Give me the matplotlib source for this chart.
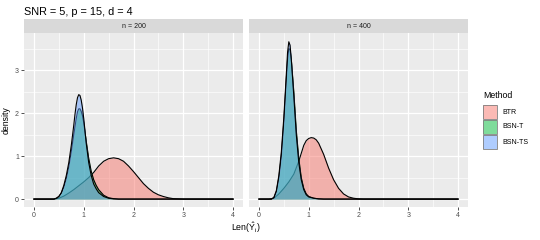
import numpy as np
import matplotlib
matplotlib.use("Agg")
import matplotlib.pyplot as plt
from matplotlib.patches import Rectangle

plt.rcParams['font.family'] = ['Liberation Sans', 'DejaVu Sans']
plt.rcParams['mathtext.fontset'] = 'custom'
plt.rcParams['mathtext.rm'] = 'Liberation Sans'
plt.rcParams['mathtext.it'] = 'Liberation Sans:italic'

# density curves
methods = ['BTR', 'BSN-T', 'BSN-TS']
colors = ['#F8766D', '#00BA38', '#619CFF']
panels = ['n = 200', 'n = 400']

btr200_x = [0, 0.4, 0.5, 0.6, 0.7, 0.8, 0.9, 1.0, 1.1, 1.2, 1.3, 1.4, 1.5, 1.6, 1.7, 1.8, 1.9,
            2.0, 2.1, 2.2, 2.3, 2.4, 2.5, 2.6, 2.7, 2.8, 2.9, 3.0, 4]
btr200_y = [0, 0, 0.02, 0.07, 0.14, 0.22, 0.31, 0.40, 0.50, 0.62, 0.77, 0.88, 0.94, 0.96, 0.94, 0.88, 0.77,
            0.64, 0.50, 0.36, 0.25, 0.16, 0.10, 0.06, 0.03, 0.01, 0.005, 0, 0]

bsnt200_x = [0, 0.4, 0.45, 0.5, 0.55, 0.6, 0.65, 0.7, 0.75, 0.8, 0.85, 0.875, 0.9, 0.925, 0.95,
             0.975, 1.0, 1.05, 1.1, 1.15, 1.2, 1.25, 1.3, 1.4, 1.5, 1.6, 1.7, 4]
bsnt200_y = [0, 0, 0.02, 0.06, 0.14, 0.28, 0.48, 0.75, 1.1, 1.5, 1.88, 2.03, 2.1, 2.1, 2.04,
             1.94, 1.78, 1.35, 0.95, 0.65, 0.45, 0.32, 0.22, 0.09, 0.03, 0.01, 0, 0]

bsnts200_x = [0, 0.4, 0.45, 0.5, 0.55, 0.6, 0.65, 0.7, 0.75, 0.8, 0.825, 0.85, 0.875, 0.9, 0.925,
              0.95, 0.975, 1.0, 1.05, 1.1, 1.15, 1.2, 1.25, 1.3, 1.4, 1.5, 1.6, 1.7, 4]
bsnts200_y = [0, 0, 0.02, 0.06, 0.15, 0.32, 0.55, 0.85, 1.25, 1.72, 1.98, 2.2, 2.36, 2.43, 2.41,
              2.3, 2.12, 1.88, 1.3, 0.85, 0.55, 0.35, 0.24, 0.15, 0.06, 0.02, 0.005, 0, 0]

btr400_x = [0, 0.2, 0.3, 0.4, 0.5, 0.6, 0.7, 0.8, 0.9, 0.95, 1.0, 1.05, 1.1, 1.15, 1.2, 1.3, 1.4,
            1.5, 1.6, 1.7, 1.8, 1.9, 2.0, 2.1, 4]
btr400_y = [0, 0, 0.02, 0.12, 0.25, 0.40, 0.58, 0.88, 1.25, 1.36, 1.41, 1.43, 1.42, 1.38, 1.30, 1.04, 0.72,
            0.45, 0.25, 0.12, 0.05, 0.02, 0.005, 0, 0]

bsnt400_x = [0, 0.25, 0.3, 0.35, 0.4, 0.45, 0.5, 0.55, 0.575, 0.6, 0.625, 0.65, 0.7, 0.75, 0.8,
             0.85, 0.9, 0.95, 1.0, 1.1, 1.2, 1.3, 4]
bsnt400_y = [0, 0, 0.03, 0.17, 0.5, 1.0, 1.8, 2.8, 3.25, 3.5, 3.48, 3.25, 2.5, 1.6, 0.95,
             0.5, 0.25, 0.12, 0.06, 0.02, 0.005, 0, 0]

bsnts400_x = [0, 0.25, 0.3, 0.35, 0.4, 0.45, 0.5, 0.55, 0.575, 0.6, 0.625, 0.65, 0.7, 0.75, 0.8,
              0.85, 0.9, 0.95, 1.0, 1.1, 1.2, 1.3, 4]
bsnts400_y = [0, 0, 0.04, 0.2, 0.55, 1.1, 1.9, 2.9, 3.42, 3.66, 3.58, 3.25, 2.4, 1.5, 0.85,
              0.45, 0.22, 0.1, 0.05, 0.02, 0.005, 0, 0]

curves = [
    [(btr200_x, btr200_y), (bsnt200_x, bsnt200_y), (bsnts200_x, bsnts200_y)],
    [(btr400_x, btr400_y), (bsnt400_x, bsnt400_y), (bsnts400_x, bsnts400_y)],
]

W, H = 540, 240
fig = plt.figure(figsize=(5.4, 2.4), dpi=100)

lefts = [24, 249]
pw = 219
top, bot = 33, 207
strip_top = 19

for i, left in enumerate(lefts):
    ax = fig.add_axes([left / W, 1 - bot / H, pw / W, (bot - top) / H])
    ax.set_facecolor('#EBEBEB')
    # each group: fill then outline, in order, so later fills cover earlier outlines
    for k, ((xs, ys), c) in enumerate(zip(curves[i], colors)):
        ax.fill_between(xs, ys, 0, color=c, alpha=0.5, linewidth=0, zorder=3 + 2 * k)
        ax.plot(xs, ys, color='black', lw=0.8, zorder=3 + 2 * k + 1)
    ax.set_xlim(-0.2, 4.2)
    ax.set_ylim(-0.184, 3.864)
    ax.set_xticks([0, 1, 2, 3, 4])
    ax.set_xticks([0.5, 1.5, 2.5, 3.5], minor=True)
    ax.set_yticks([0, 1, 2, 3])
    ax.set_yticks([0.5, 1.5, 2.5, 3.5], minor=True)
    ax.grid(True, which='major', color='white', lw=0.9)
    ax.grid(True, which='minor', color='white', lw=0.45)
    ax.set_axisbelow(True)
    for s in ax.spines.values():
        s.set_visible(False)
    ax.tick_params(which='major', length=2.2, width=0.6, color='#333333',
                   labelsize=5, labelcolor='#4D4D4D', pad=1.5)
    ax.tick_params(which='minor', length=0)
    if i == 1:
        ax.tick_params(axis='y', which='both', left=False, labelleft=False)
    else:
        ax.set_ylabel('density', fontsize=6.3, labelpad=3, color='black')

    # facet strip
    sax = fig.add_axes([left / W, 1 - top / H, pw / W, (top - strip_top) / H])
    sax.set_facecolor('#D9D9D9')
    sax.set_xticks([])
    sax.set_yticks([])
    for s in sax.spines.values():
        s.set_visible(False)
    sax.text(0.5, 0.5, panels[i], ha='center', va='center', fontsize=5, color='#1A1A1A',
             transform=sax.transAxes)

fig.text(24 / W, 1 - 12 / H, 'SNR = 5, p = 15, d = 4', fontsize=7.8, ha='left', va='center')
fig.text(246 / W, 1 - 228 / H, r'Len($\hat{\mathrm{Y}}_{\mathrm{i}}$)', fontsize=6.3,
         ha='center', va='center')

# legend
fig.text(483 / W, 1 - 96 / H, 'Method', fontsize=6.3, ha='left', va='center')
for k, (m, c) in enumerate(zip(methods, colors)):
    yc = 112 + 15 * k
    fig.patches.append(Rectangle((483 / W, 1 - (yc + 7) / H), 14 / W, 14 / H,
                                 transform=fig.transFigure, facecolor=c, alpha=0.5,
                                 edgecolor='none'))
    fig.patches.append(Rectangle((483 / W, 1 - (yc + 7) / H), 14 / W, 14 / H,
                                 transform=fig.transFigure, facecolor='none',
                                 edgecolor='#7f7f7f', lw=0.6))
    fig.text(502 / W, 1 - yc / H, m, fontsize=5, ha='left', va='center')

fig.savefig('out.png', dpi=100)
